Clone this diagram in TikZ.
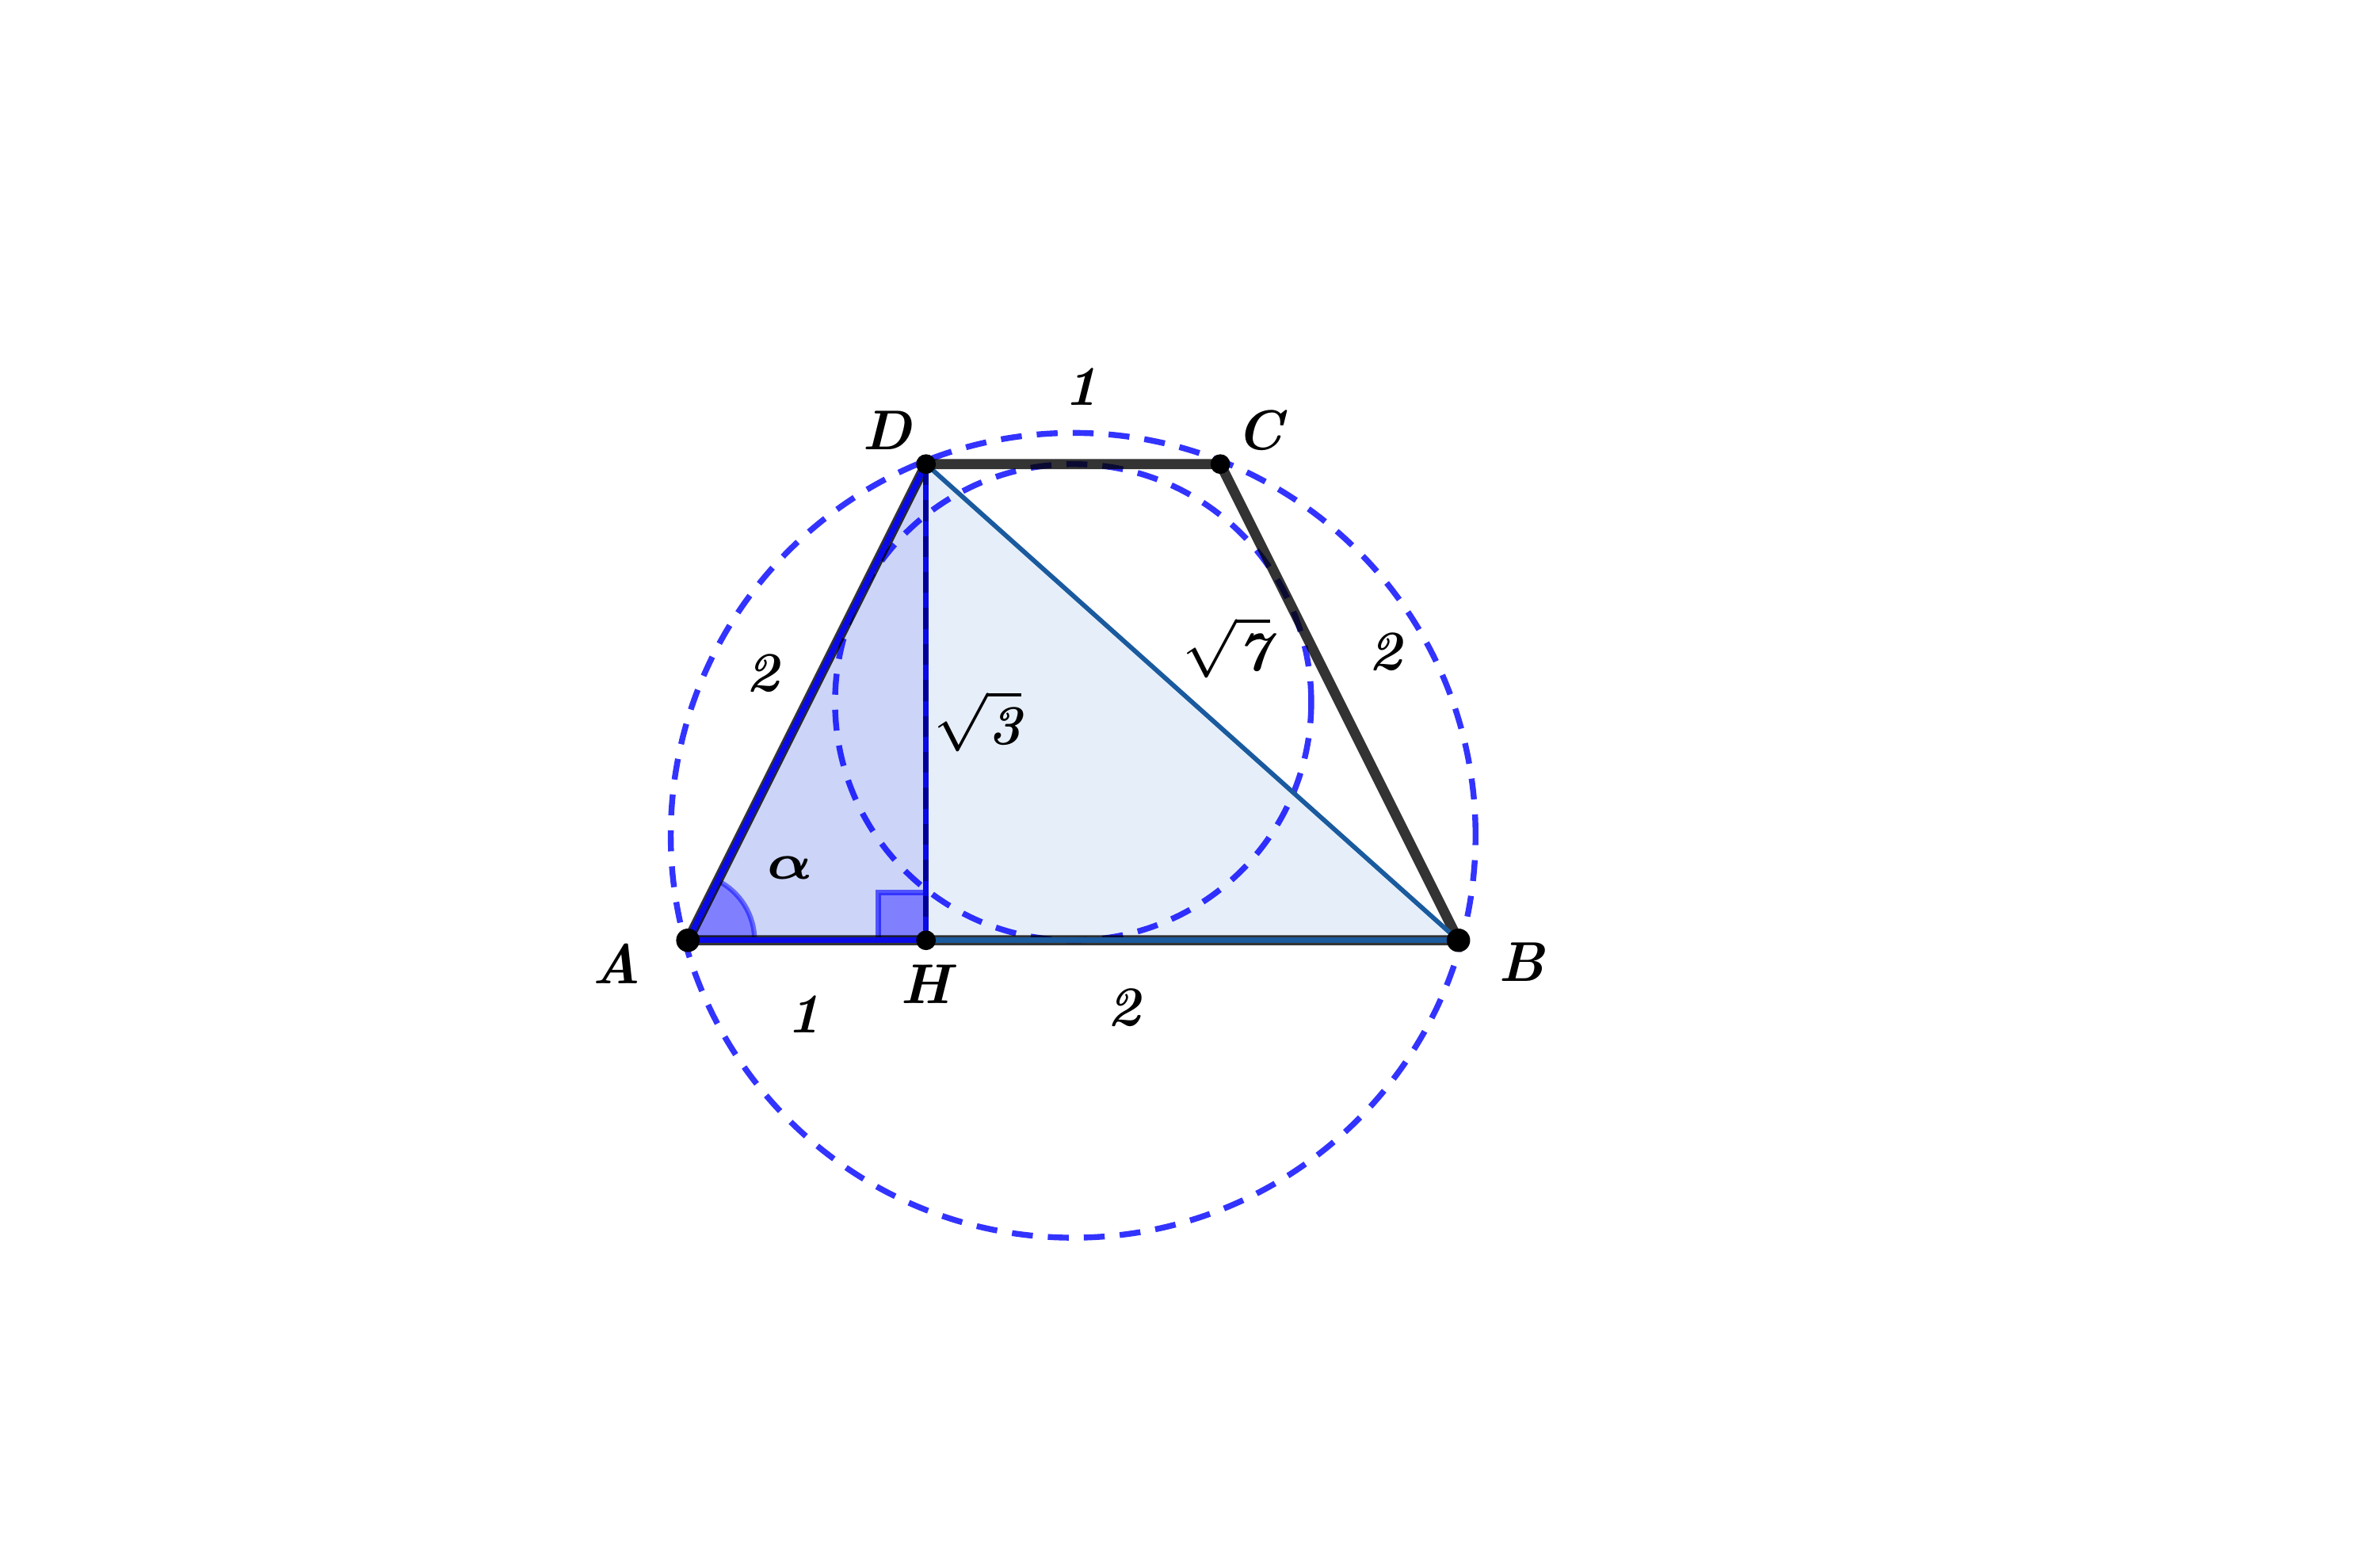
\documentclass[tikz,border=0pt]{standalone}
\usepackage{bm}
\usetikzlibrary{calc}
\definecolor{circblue}{RGB}{0,0,255}
\definecolor{segblue}{RGB}{10,10,230}
\definecolor{steel}{RGB}{26,90,158}
\definecolor{lightfill}{RGB}{230,239,249}
\definecolor{midfill}{RGB}{204,212,247}
\definecolor{anglefill}{RGB}{128,128,255}
\tikzset{
    dashcirc/.style={draw=circblue, draw opacity=0.8, line width=0.7pt, dash pattern=on 2.5pt off 1.8pt},
    trapedge/.style={draw=black, draw opacity=0.8, line width=1.2pt},
    inneredge/.style={line width=0.7pt},
    lbl/.style={font=\fontsize{6.7}{8}\selectfont\bfseries\itshape, inner sep=0pt},
    bigdot/.style={circle, fill=black, inner sep=0pt, minimum size=2.8pt},
    smalldot/.style={circle, fill=black, inner sep=0pt, minimum size=2.35pt}
}

\begin{document}
\begin{tikzpicture}
    \def \sq {2.2361}
    \useasboundingbox (-2.889,-2.633) rectangle (7.094,3.949);
    \coordinate (A) at (0, 0);
    \coordinate (H) at (1, 0);
    \coordinate (B) at (1+\sq, 0);
    \coordinate (D) at (1, 2);
    \coordinate (C) at (\sq, 2);
    \coordinate (O) at (1.618, 0.441);
    \coordinate (I) at (1.618, 1);
    % fills
    \fill[lightfill] (D) -- (H) -- (B) -- cycle;
    \fill[midfill] (A) -- (H) -- (D) -- cycle;
    \filldraw[fill=anglefill, draw=circblue, draw opacity=0.5, line width=0.6pt]
        (A) -- ++(0.28,0) arc (0:63.43:0.28) -- cycle;
    \filldraw[fill=anglefill, draw=circblue, draw opacity=0.6, line width=0.6pt]
        (H) -- ++(-0.2,0) -- ++(0,0.2) -- ++(0.2,0) -- cycle;
    % circles
    \draw[dashcirc] (O) circle (1.69);
    \draw[dashcirc] (I) circle (1);
    % trapezoid
    \draw[trapedge] (A) -- (B) -- (C) -- (D) -- cycle;
    \draw[inneredge, segblue] (A) -- (H);
    \draw[inneredge, steel] (H) -- (B);
    \draw[inneredge, segblue] (A) -- (D);
    \draw[inneredge, segblue] (D) -- (H);
    \draw[inneredge, draw=blue!60!black, dash pattern=on 2.5pt off 1.8pt] (D) -- (H);
    \draw[line width=0.55pt, steel] (D) -- (B);
    % points
    \node[bigdot] (pA) at (A) {};
    \node[bigdot] (pB) at (B) {};
    \node[smalldot] (pD) at (D) {};
    \node[smalldot] (pC) at (C) {};
    \node[smalldot] (pH) at (H) {};
    % labels
    \node[lbl] (lA) at (-0.30,-0.10) {A};
    \node[lbl] (lH) at (1.0,-0.185) {H};
    \node[lbl] (lB) at (3.5,-0.09) {B};
    \node[lbl] (lD) at (0.835,2.142) {D};
    \node[lbl] (lC) at (2.40,2.142) {C};
    \node[lbl] (lDC) at (1.65,2.325) {1};
    \node[lbl] (lAD) at (0.312,1.12) {2};
    \node[lbl] (lBC) at (2.93,1.21) {2};
    \node[lbl] (lAH) at (0.485,-0.31) {1};
    \node[lbl] (lHB) at (1.83,-0.284) {2};
    \node[lbl] (lDH) at (1.215,0.92) {$\sqrt{\textbf{\textit{3}}}$};
    \node[lbl] (lDB) at (2.26,1.23) {$\sqrt{\textbf{\textit{7}}}$};
    \node[lbl, font=\fontsize{5.6}{7}\selectfont] (lal) at (0.43,0.305) {$\bm{\alpha}$};
\end{tikzpicture}
\end{document}
